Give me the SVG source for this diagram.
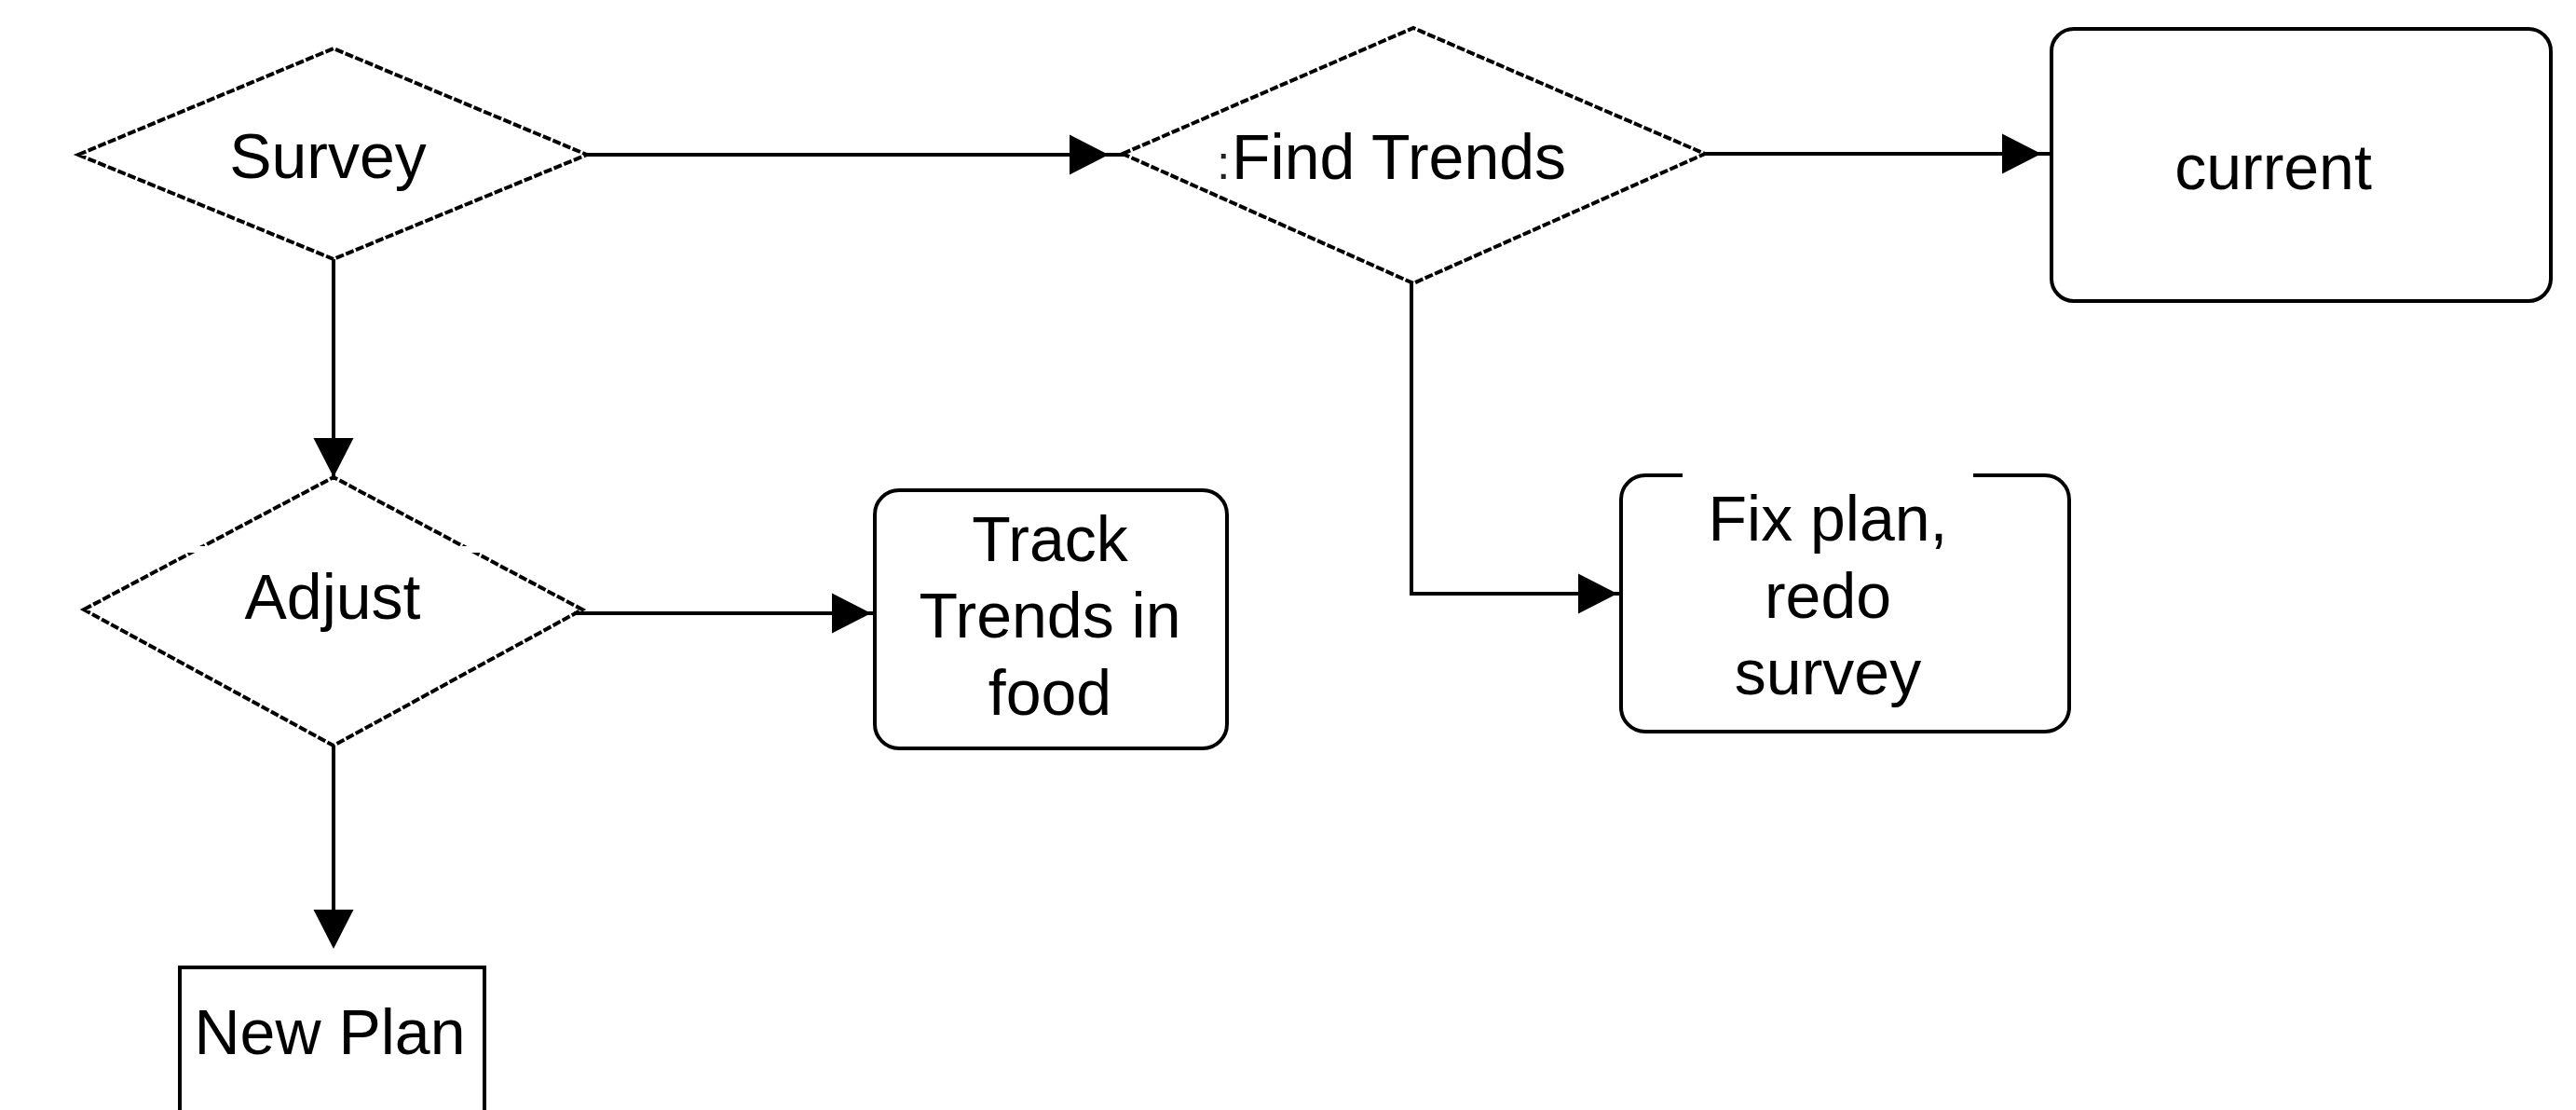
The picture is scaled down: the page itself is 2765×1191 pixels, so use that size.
<svg xmlns="http://www.w3.org/2000/svg" xmlns:xlink="http://www.w3.org/1999/xlink" width="2765" height="1191" viewBox="0 0 2765 1191">
<style>
.bg{fill:#ffffff}
.dia{fill:none;stroke:#000;stroke-width:4;stroke-dasharray:9 2.5}
.box{fill:none;stroke:#000;stroke-width:4}
.conn{fill:none;stroke:#000;stroke-width:4}
.lbl{font-family:"Liberation Sans",Arial,sans-serif;font-size:68px;fill:#000}
.mid{text-anchor:middle}
.dots{font-size:52px;fill:#222}
</style>
<defs>
<path id="ah" d="M0,0 L-42,-21.5 L-42,21.5 Z" fill="#000"/>
</defs>
<rect class="bg" x="0" y="0" width="2765" height="1191"/>
<g id="connectors">
<g id="c-survey-find"><path class="conn" d="M630,166 H1207"/><use xlink:href="#ah" transform="translate(1190,166)"/></g>
<g id="c-survey-adjust"><path class="conn" d="M358,278 V512"/><use xlink:href="#ah" transform="translate(358,512) rotate(90)"/></g>
<g id="c-adjust-track"><path class="conn" d="M616,658 H939"/><use xlink:href="#ah" transform="translate(935,658)"/></g>
<g id="c-adjust-newplan"><path class="conn" d="M358,800 V1000"/><use xlink:href="#ah" transform="translate(358,1018) rotate(90)"/></g>
<g id="c-find-fix"><path class="conn" d="M1515,304 V637 H1740"/><use xlink:href="#ah" transform="translate(1736,637)"/></g>
<g id="c-find-current"><path class="conn" d="M1830,165 H2203"/><use xlink:href="#ah" transform="translate(2191,165)"/></g>
</g>
<g id="survey">
<polygon class="dia" points="84,166 358,52 630,166 358,278"/>
<text class="lbl mid" x="352" y="191">Survey</text>
</g>
<g id="find-trends">
<polygon class="dia" points="1205,165 1517,30 1830,165 1517,304"/>
<text class="lbl" x="1306" y="192"><tspan class="dots">:</tspan><tspan x="1322">Find Trends</tspan></text>
</g>
<g id="current">
<rect class="box" x="2202" y="31" width="536" height="292" rx="24" ry="24"/>
<text class="lbl mid" x="2440" y="203">current</text>
</g>
<g id="adjust">
<polygon class="dia" points="90,654 358,512 625,654 358,800"/>
<rect x="195" y="586" width="325" height="7" fill="#fff"/>
<text class="lbl mid" x="357" y="664">Adjust</text>
</g>
<g id="track-trends">
<rect class="box" x="939" y="526" width="378" height="277" rx="26" ry="26"/>
<text class="lbl mid" x="1127" y="602">Track</text>
<text class="lbl mid" x="1127" y="684">Trends in</text>
<text class="lbl mid" x="1127" y="767">food</text>
</g>
<g id="fix-plan">
<path class="box" d="M2118,510 H2195 A26,26 0 0 1 2221,536 V759 A26,26 0 0 1 2195,785 H1766 A26,26 0 0 1 1740,759 V536 A26,26 0 0 1 1766,510 H1806"/>
<text class="lbl mid" x="1962" y="580">Fix plan,</text>
<text class="lbl mid" x="1962" y="663">redo</text>
<text class="lbl mid" x="1962" y="745">survey</text>
</g>
<g id="new-plan">
<rect class="box" x="193" y="1038" width="327" height="200"/>
<text class="lbl mid" x="354" y="1131">New Plan</text>
</g>
</svg>
